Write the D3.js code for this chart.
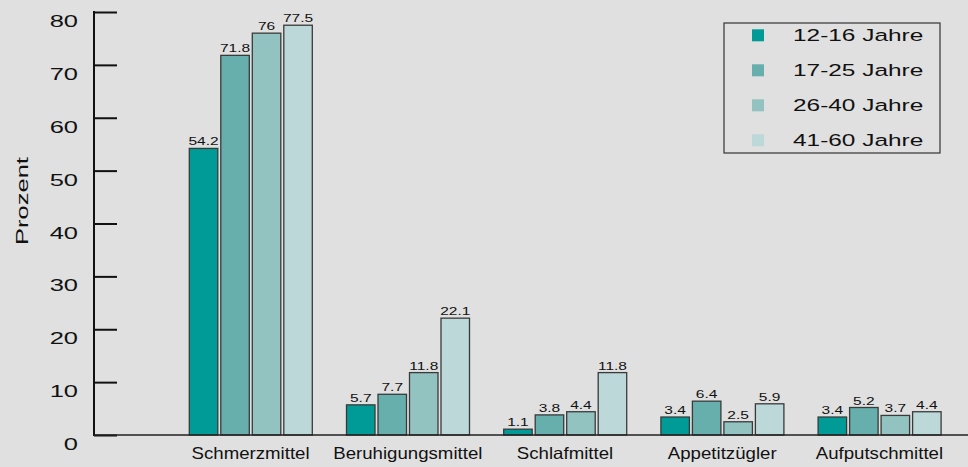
<!DOCTYPE html>
<html>
<head>
<meta charset="utf-8">
<script src="https://cdn.jsdelivr.net/npm/d3@7"></script>
<style>
  html, body { margin: 0; padding: 0; background: #e0e0e0; }
  svg { display: block; }
  text { font-family: "Liberation Sans", Arial, Helvetica, sans-serif; fill: #111; }
</style>
</head>
<body>
<svg id="chart" width="968" height="467"></svg>
<script>
const categories = ["Schmerzmittel", "Beruhigungsmittel", "Schlafmittel", "Appetitzügler", "Aufputschmittel"];
const seriesNames = ["12-16 Jahre", "17-25 Jahre", "26-40 Jahre", "41-60 Jahre"];
const s1216 = [54.2, 5.7, 1.1, 3.4, 3.4];
const s1725 = [71.8, 7.7, 3.8, 6.4, 5.2];
const s2640 = [76, 11.8, 4.4, 2.5, 3.7];
const s4160 = [77.5, 22.1, 11.8, 5.9, 4.4];
const seriesValues = [s1216, s1725, s2640, s4160];
const yTicks = [0, 10, 20, 30, 40, 50, 60, 70, 80];
const colors = ["#009b96", "#66afad", "#93c3c0", "#bcd8d8"];
const yTitle = "Prozent";

const svg = d3.select("#chart");
const W = 968, H = 467;
svg.append("rect").attr("width", W).attr("height", H).attr("fill", "#e0e0e0");

const y = d3.scaleLinear().domain([0, 80]).range([435, 12]);
const x0 = d3.scaleBand().domain(categories).range([172, 958]).padding(0);
const x1 = d3.scaleBand().domain(seriesNames).range([17.3, 140.3]).paddingInner(0.095).paddingOuter(0);

// helper for horizontally stretched text
function stext(parent, x, yy, str, size, sx, anchor, cls) {
  const g = parent.append("g").attr("transform", `translate(${x},${yy})`);
  g.append("text")
    .attr("transform", `scale(${sx},1)`)
    .attr("text-anchor", anchor)
    .attr("font-size", size)
    .attr("class", cls || null)
    .text(str);
  return g;
}

// bars
const data = [];
categories.forEach((c, ci) => {
  seriesNames.forEach((s, si) => {
    data.push({ c, s, si, v: seriesValues[si][ci] });
  });
});

const bars = svg.append("g");
bars.selectAll("rect").data(data).join("rect")
  .attr("x", d => x0(d.c) + x1(d.s))
  .attr("y", d => y(d.v))
  .attr("width", x1.bandwidth())
  .attr("height", d => y(0) - y(d.v))
  .attr("fill", d => colors[d.si])
  .attr("stroke", "#3a3a3a")
  .attr("stroke-width", 1.3);

// value labels
const vl = svg.append("g");
data.forEach(d => {
  stext(vl, x0(d.c) + x1(d.s) + x1.bandwidth() / 2, y(d.v) - 3, String(d.v), 11.5, 1.35, "middle");
});

// y axis
const yAxis = d3.axisRight(y).tickValues(yTicks).tickSize(23).tickFormat("");
const ya = svg.append("g").attr("transform", "translate(94,0)").call(yAxis);
ya.select(".domain").remove();
ya.selectAll(".tick line").attr("stroke", "#111").attr("stroke-width", 2);
svg.append("line").attr("x1", 94).attr("x2", 94).attr("y1", y(80) - 1).attr("y2", y(0) + 1)
  .attr("stroke", "#111").attr("stroke-width", 2);
// baseline
svg.append("line").attr("x1", 94).attr("x2", W).attr("y1", y(0)).attr("y2", y(0))
  .attr("stroke", "#222").attr("stroke-width", 1.6);

// tick labels
const tl = svg.append("g");
yTicks.forEach(t => {
  stext(tl, 78, y(t) + 15, String(t), 17, 1.5, "end");
});

// category labels
const cl = svg.append("g");
categories.forEach(c => {
  stext(cl, x0(c) + x0.bandwidth() / 2, 459, c, 16.5, 1.13, "middle");
});

// y title
const yt = svg.append("g").attr("transform", "translate(28,201) rotate(-90)");
yt.append("text").attr("transform", "scale(1.5,1)").attr("text-anchor", "middle")
  .attr("font-size", 17).text(yTitle);

// legend
const lg = svg.append("g");
lg.append("rect").attr("x", 724).attr("y", 23).attr("width", 216).attr("height", 130)
  .attr("fill", "none").attr("stroke", "#333").attr("stroke-width", 1.2);
seriesNames.forEach((s, i) => {
  lg.append("rect").attr("x", 752).attr("y", 29.3 + i * 35).attr("width", 12).attr("height", 12)
    .attr("fill", colors[i]);
  stext(lg, 793, 41 + i * 35, s, 16.5, 1.48, "start");
});
</script>
</body>
</html>
